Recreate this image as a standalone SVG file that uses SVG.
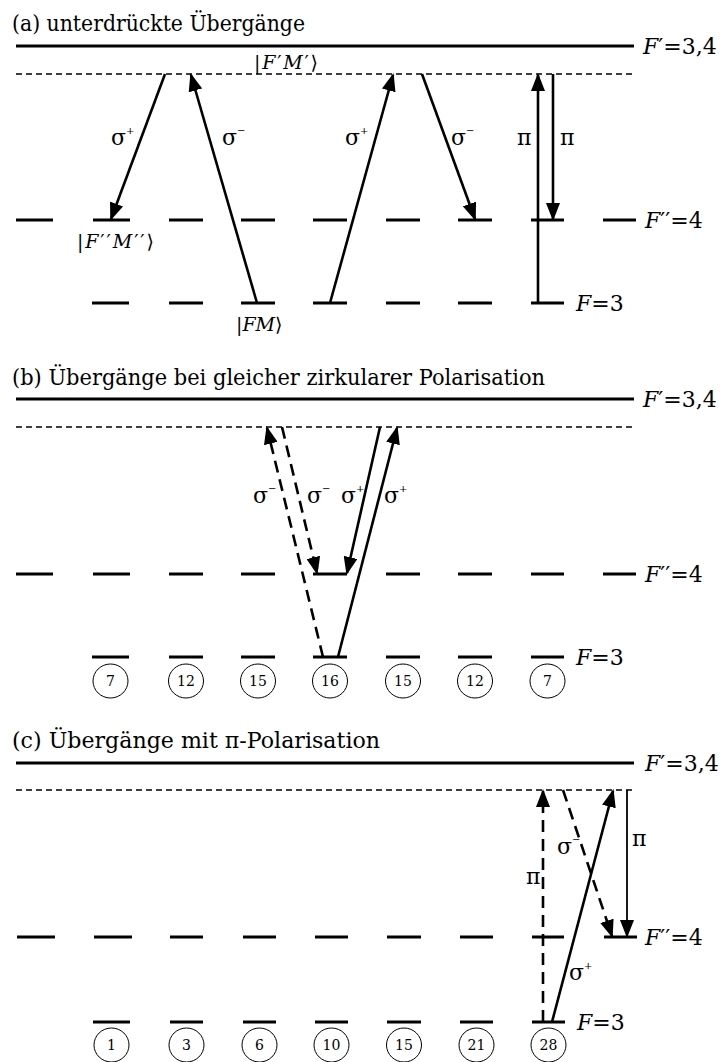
<svg xmlns="http://www.w3.org/2000/svg" width="723" height="1062" viewBox="0 0 723 1062">
<style>
text{font-family:"DejaVu Serif","Liberation Serif","Noto Serif",serif;fill:#000}
.title{font-size:22px}
.lbl{font-size:22px}
.ket{font-size:19px}
.sym{font-size:22px}
.sup{font-size:10px}
.num{font-size:14px;text-anchor:middle}
.it{font-style:italic}
.lev{stroke:#000;stroke-width:3.2;fill:none}
.top{stroke:#000;stroke-width:3.2}
.dash{stroke:#000;stroke-width:1.3;stroke-dasharray:6 4}
.arr{stroke:#000;stroke-width:2.6;fill:none;marker-end:url(#ah)}
.arrd{stroke:#000;stroke-width:2.6;fill:none;stroke-dasharray:12 7;marker-end:url(#ah)}
.arrt{stroke:#000;stroke-width:1.8;fill:none;marker-end:url(#ah)}
.circ{fill:none;stroke:#000;stroke-width:1}
</style>
<defs>
<marker id="ah" markerUnits="userSpaceOnUse" markerWidth="18" markerHeight="14" refX="16" refY="7" orient="auto" viewBox="0 0 18 14">
<path d="M0,0 L18,7 L0,14 z" fill="#000"/>
</marker>
</defs>

<!-- ===== (a) ===== -->
<g id="sectionA">
<text class="title" x="12" y="31" textLength="293" lengthAdjust="spacingAndGlyphs">(a) unterdrückte Übergänge</text>
<g id="a-Fprime">
<line class="top" x1="16" y1="46" x2="634" y2="46"/>
<text class="lbl" x="643" y="54"><tspan class="it">F</tspan>′=3,4</text>
</g>
<g id="a-virtual">
<line class="dash" x1="16" y1="74" x2="636" y2="74"/>
<text class="ket" x="254" y="69" textLength="64">|<tspan class="it">F</tspan>′<tspan class="it">M</tspan>′⟩</text>
</g>
<g id="a-F2">
<path class="lev" d="M16,220H53 M93,220H130 M169,220H203 M241,220H275 M313,220H347 M386,220H420 M458,220H492 M531,220H564 M603,220H636"/>
<text class="lbl" x="645" y="228"><tspan class="it">F</tspan>′′=4</text>
<text class="ket" x="77" y="248" textLength="77">|<tspan class="it">F</tspan>′′<tspan class="it">M</tspan>′′⟩</text>
</g>
<g id="a-F3">
<path class="lev" d="M92,303H129 M169,303H203 M241,303H275 M313,303H347 M386,303H420 M458,303H492 M531,303H564"/>
<text class="lbl" x="576" y="311"><tspan class="it">F</tspan>=3</text>
<text class="ket" x="236" y="331">|<tspan class="it">FM</tspan>⟩</text>
</g>
<g id="a-connectors">
<line class="arr" x1="165" y1="74" x2="111" y2="219"/>
<line class="arr" x1="257" y1="303" x2="191" y2="75"/>
<line class="arr" x1="330" y1="303" x2="393" y2="75"/>
<line class="arr" x1="422" y1="74" x2="475" y2="219"/>
<line class="arr" x1="538" y1="303" x2="538" y2="75"/>
<line class="arr" x1="553" y1="74" x2="553" y2="219"/>
</g>
<g id="a-labels">
<text class="sym" x="111" y="145">σ<tspan class="sup" dy="-11">+</tspan></text>
<text class="sym" x="222" y="145">σ<tspan class="sup" dy="-11">−</tspan></text>
<text class="sym" x="345" y="145">σ<tspan class="sup" dy="-11">+</tspan></text>
<text class="sym" x="451" y="145">σ<tspan class="sup" dy="-11">−</tspan></text>
<text class="sym" x="517" y="145">π</text>
<text class="sym" x="560" y="145">π</text>
</g>
</g>

<!-- ===== (b) ===== -->
<g id="sectionB">
<text class="title" x="12" y="385" textLength="533" lengthAdjust="spacingAndGlyphs">(b) Übergänge bei gleicher zirkularer Polarisation</text>
<g id="b-Fprime">
<line class="top" x1="16" y1="399" x2="634" y2="399"/>
<text class="lbl" x="643" y="407"><tspan class="it">F</tspan>′=3,4</text>
</g>
<g id="b-virtual">
<line class="dash" x1="16" y1="427" x2="636" y2="427"/>
</g>
<g id="b-F2">
<path class="lev" d="M16,574H53 M93,574H130 M169,574H203 M241,574H275 M313,574H347 M386,574H420 M458,574H492 M531,574H564 M603,574H636"/>
<text class="lbl" x="645" y="582"><tspan class="it">F</tspan>′′=4</text>
</g>
<g id="b-F3">
<path class="lev" d="M92,657H129 M169,657H203 M241,657H275 M313,657H347 M386,657H420 M458,657H492 M531,657H564"/>
<text class="lbl" x="576" y="665"><tspan class="it">F</tspan>=3</text>
</g>
<g id="b-weights">
<ellipse class="circ" cx="110.5" cy="681" rx="17.5" ry="17"/><text class="num" x="110.5" y="686">7</text>
<ellipse class="circ" cx="186" cy="681" rx="17.5" ry="17"/><text class="num" x="186" y="686">12</text>
<ellipse class="circ" cx="258" cy="681" rx="17.5" ry="17"/><text class="num" x="258" y="686">15</text>
<ellipse class="circ" cx="330" cy="681" rx="17.5" ry="17"/><text class="num" x="330" y="686">16</text>
<ellipse class="circ" cx="403" cy="681" rx="17.5" ry="17"/><text class="num" x="403" y="686">15</text>
<ellipse class="circ" cx="475" cy="681" rx="17.5" ry="17"/><text class="num" x="475" y="686">12</text>
<ellipse class="circ" cx="547.5" cy="681" rx="17.5" ry="17"/><text class="num" x="547.5" y="686">7</text>
</g>
<g id="b-connectors">
<line class="arrd" x1="323" y1="657" x2="267" y2="428"/>
<line class="arrd" x1="282" y1="427" x2="317" y2="573"/>
<line class="arr" x1="380" y1="427" x2="347" y2="573"/>
<line class="arr" x1="338" y1="657" x2="397" y2="428"/>
</g>
<g id="b-labels">
<text class="sym" x="253" y="503">σ<tspan class="sup" dy="-11">−</tspan></text>
<text class="sym" x="307" y="503">σ<tspan class="sup" dy="-11">−</tspan></text>
<text class="sym" x="341" y="503">σ<tspan class="sup" dy="-11">+</tspan></text>
<text class="sym" x="384" y="503">σ<tspan class="sup" dy="-11">+</tspan></text>
</g>
</g>

<!-- ===== (c) ===== -->
<g id="sectionC">
<text class="title" x="12" y="748" textLength="368" lengthAdjust="spacingAndGlyphs">(c) Übergänge mit π-Polarisation</text>
<g id="c-Fprime">
<line class="top" x1="16" y1="763" x2="634" y2="763"/>
<text class="lbl" x="645" y="771"><tspan class="it">F</tspan>′=3,4</text>
</g>
<g id="c-virtual">
<line class="dash" x1="16" y1="790" x2="636" y2="790"/>
</g>
<g id="c-F2">
<path class="lev" d="M17,937H55 M94,937H132 M170,937H203 M243,937H276 M315,937H348 M387,937H421 M460,937H493 M532,937H564 M604,937H637"/>
<text class="lbl" x="645" y="945"><tspan class="it">F</tspan>′′=4</text>
</g>
<g id="c-F3">
<path class="lev" d="M93,1022H130 M170,1022H203 M243,1022H276 M315,1022H348 M387,1022H421 M460,1022H493 M532,1022H565"/>
<text class="lbl" x="577" y="1030"><tspan class="it">F</tspan>=3</text>
</g>
<g id="c-weights">
<ellipse class="circ" cx="111.5" cy="1045" rx="17.5" ry="17"/><text class="num" x="111.5" y="1050">1</text>
<ellipse class="circ" cx="186.5" cy="1045" rx="17.5" ry="17"/><text class="num" x="186.5" y="1050">3</text>
<ellipse class="circ" cx="259.5" cy="1045" rx="17.5" ry="17"/><text class="num" x="259.5" y="1050">6</text>
<ellipse class="circ" cx="331.5" cy="1045" rx="17.5" ry="17"/><text class="num" x="331.5" y="1050">10</text>
<ellipse class="circ" cx="404" cy="1045" rx="17.5" ry="17"/><text class="num" x="404" y="1050">15</text>
<ellipse class="circ" cx="476.5" cy="1045" rx="17.5" ry="17"/><text class="num" x="476.5" y="1050">21</text>
<ellipse class="circ" cx="548.5" cy="1045" rx="17.5" ry="17"/><text class="num" x="548.5" y="1050">28</text>
</g>
<g id="c-connectors">
<line class="arrd" x1="543" y1="1022" x2="543" y2="791"/>
<line class="arrd" x1="563" y1="790" x2="612" y2="936"/>
<line class="arr" x1="552" y1="1022" x2="613" y2="791"/>
<line class="arrt" x1="627" y1="790" x2="627" y2="936"/>
</g>
<g id="c-labels">
<text class="sym" x="557" y="854">σ<tspan class="sup" dy="-11">−</tspan></text>
<text class="sym" x="526" y="884">π</text>
<text class="sym" x="632" y="846">π</text>
<text class="sym" x="569" y="980">σ<tspan class="sup" dy="-11">+</tspan></text>
</g>
</g>
</svg>
